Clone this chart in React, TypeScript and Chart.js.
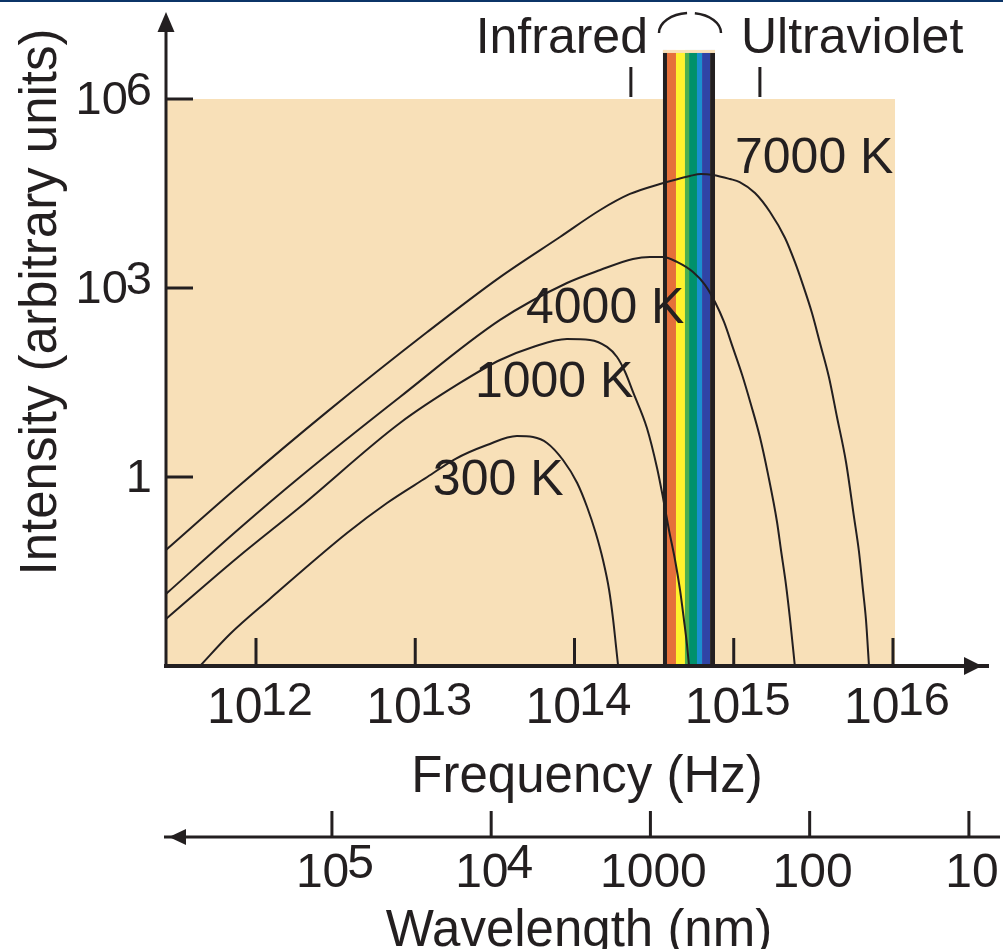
import React, { useEffect, useRef } from "react";
import { Chart, registerables } from "chart.js";

Chart.register(...registerables);

// ---- Data (frequency in Hz, intensity in arbitrary units) ----
const FREQ_7000K = [2.72e11, 7.93e11, 2.79e12, 1.19e13, 3.41e13, 8.11e13, 1.45e14, 2.23e14, 3.44e14, 5.31e14, 6.23e14, 7.41e14, 9.47e14, 1.09e15, 1.36e15, 1.69e15, 2.10e15, 2.42e15, 2.72e15, 3.10e15, 3.48e15, 3.96e15, 4.45e15, 5.07e15, 5.69e15, 6.12e15, 6.48e15, 6.77e15, 7.07e15];
const INT_7000K = [0.0694, 0.746, 10.8, 200, 1490, 6450, 17300, 31100, 44700, 60000, 64500, 62200, 53700, 48100, 32200, 16100, 6220, 2590, 1120, 401, 134, 38.7, 8.96, 1.73, 0.232, 0.0645, 0.0161, 0.00537, 0.001];

const FREQ_4000K = [2.72e11, 7.93e11, 1.89e12, 8.02e12, 3.41e13, 8.97e13, 1.45e14, 2.33e14, 2.98e14, 3.60e14, 4.40e14, 5.55e14, 6.60e14, 7.63e14, 8.69e14, 9.89e14, 1.13e15, 1.28e15, 1.46e15, 1.64e15, 1.87e15, 1.98e15, 2.13e15, 2.26e15, 2.42e15];
const INT_4000K = [0.0139, 0.155, 1.0, 18.6, 311, 1200, 1930, 2890, 3110, 3110, 2590, 1790, 1120, 600, 289, 112, 41.6, 14.4, 4.31, 1.12, 0.193, 0.0694, 0.0193, 0.00537, 0.001];

const FREQ_1000K = [2.72e11, 7.60e11, 1.89e12, 8.02e12, 1.91e13, 3.41e13, 5.49e13, 8.97e13, 1.25e14, 1.60e14, 1.85e14, 2.08e14, 2.33e14, 2.85e14, 3.30e14, 3.60e14, 3.92e14, 4.28e14, 4.60e14, 4.87e14, 5.09e14, 5.24e14];
const INT_1000K = [0.00557, 0.0518, 0.334, 7.2, 31.1, 72.0, 116, 155, 150, 116, 80.3, 46.4, 22.4, 6.0, 1.39, 0.464, 0.144, 0.0481, 0.0161, 0.00537, 0.00215, 0.001];

const FREQ_300K = [4.45e11, 6.87e11, 1.22e12, 3.73e12, 6.65e12, 1.19e13, 1.78e13, 2.82e13, 4.35e13, 5.49e13, 6.72e13, 8.47e13, 1.04e14, 1.20e14, 1.36e14, 1.51e14, 1.65e14, 1.75e14, 1.82e14, 1.88e14];
const INT_300K = [0.001, 0.00322, 0.0116, 0.129, 0.387, 1.0, 1.93, 3.22, 4.48, 4.31, 3.47, 1.86, 0.803, 0.334, 0.129, 0.0481, 0.0161, 0.00537, 0.00215, 0.001];

const SERIES_LABELS = ["7000 K", "4000 K", "1000 K", "300 K"];

const FREQ_TICKS = [1e12, 1e13, 1e14, 1e15, 1e16];
const FREQ_TICK_LABELS = [["10", "12"], ["10", "13"], ["10", "14"], ["10", "15"], ["10", "16"]];
const INTENSITY_TICKS = [1e6, 1e3, 1];
const INTENSITY_TICK_LABELS = [["10", "6"], ["10", "3"], ["1", ""]];
const WAVELENGTH_TICKS_NM = [1e5, 1e4, 1000, 100, 10];
const WAVELENGTH_TICK_LABELS = [["10", "5"], ["10", "4"], ["1000", ""], ["100", ""], ["10", ""]];

// visible band: stripe edges in nm and their colours
const VISIBLE_EDGES_NM = [834, 787, 691, 607, 572, 510, 474, 422, 393];
const VISIBLE_COLORS = ["#231f20", "#e5703a", "#fff22d", "#4cae4f", "#00916b", "#1a90cf", "#2f44a6", "#231f20"];
const IR_UV_MARKS_HZ = [2.26e14, 1.46e15];

const C_NM_PER_S = 2.998e17;

// axis ranges
const FREQ_MIN = 2.722e11;
const FREQ_MAX = 4.067e16;
const INT_MIN = 1e-3;
const INT_MAX = 2.404e7;
const BG_FREQ_MAX = 1.03e16;
const BG_INT_MAX = 1e6;
const BAND_TOP_INT = 6e6;

// ---- styling ----
const INK = "#231f20";
const BEIGE = "#f8e0b8";
const FONT = "'Liberation Sans', Arial, Helvetica, sans-serif";

function toPoints(fs: number[], is: number[]) {
  return fs.map((f, i) => ({ x: f, y: is[i] }));
}

function drawPower(
  ctx: CanvasRenderingContext2D,
  base: string,
  exp: string,
  x: number,
  baseline: number,
  baseSize: number,
  expSize: number,
  rise: number,
  align: "center" | "right",
  overlap: number
) {
  ctx.textAlign = "left";
  ctx.textBaseline = "alphabetic";
  ctx.font = `${baseSize}px ${FONT}`;
  const bw = ctx.measureText(base).width;
  ctx.font = `${expSize}px ${FONT}`;
  const ew = exp ? ctx.measureText(exp).width - overlap : 0;
  const total = bw + ew;
  const left = align === "center" ? x - total / 2 : x - total;
  ctx.font = `${baseSize}px ${FONT}`;
  ctx.fillText(base, left, baseline);
  if (exp) {
    ctx.font = `${expSize}px ${FONT}`;
    ctx.fillText(exp, left + bw - overlap, baseline - rise);
  }
}

const decorPlugin = {
  id: "blackbodyDecor",
  beforeDatasetsDraw(chart: any) {
    const { ctx, chartArea: ca, scales } = chart;
    const x = scales.x;
    const y = scales.y;
    ctx.save();
    // beige plotting region
    const bgR = x.getPixelForValue(BG_FREQ_MAX);
    const bgT = y.getPixelForValue(BG_INT_MAX);
    ctx.fillStyle = BEIGE;
    ctx.fillRect(ca.left, bgT, bgR - ca.left, ca.bottom - bgT);
    // visible spectrum band
    const bandTop = y.getPixelForValue(BAND_TOP_INT);
    for (let i = 0; i < VISIBLE_COLORS.length; i++) {
      const xa = x.getPixelForValue(C_NM_PER_S / VISIBLE_EDGES_NM[i]);
      const xb = x.getPixelForValue(C_NM_PER_S / VISIBLE_EDGES_NM[i + 1]);
      ctx.fillStyle = VISIBLE_COLORS[i];
      ctx.fillRect(xa, bandTop, xb - xa, ca.bottom - bandTop);
    }
    const bandL = x.getPixelForValue(C_NM_PER_S / VISIBLE_EDGES_NM[0]);
    const bandR = x.getPixelForValue(C_NM_PER_S / VISIBLE_EDGES_NM[VISIBLE_EDGES_NM.length - 1]);
    ctx.fillStyle = BEIGE;
    ctx.fillRect(bandL, bandTop, bandR - bandL, 3);
    ctx.restore();
  },
  afterDatasetsDraw(chart: any) {
    const { ctx, chartArea: ca, scales, width } = chart;
    const x = scales.x;
    const y = scales.y;
    ctx.save();
    ctx.fillStyle = INK;
    ctx.strokeStyle = INK;

    // top frame stripe
    ctx.fillStyle = "#0b3467";
    ctx.fillRect(0, 0, width, 2);
    ctx.fillStyle = INK;

    // curve labels (anchored in data coordinates)
    const labelAnchors = [
      [1.018e15, 6.69e4],
      [4.96e13, 278],
      [2.37e13, 18.6],
      [1.29e13, 0.518],
    ];
    ctx.font = `50px ${FONT}`;
    ctx.textAlign = "left";
    ctx.textBaseline = "alphabetic";
    SERIES_LABELS.forEach((lbl, i) => {
      ctx.fillText(lbl, x.getPixelForValue(labelAnchors[i][0]), y.getPixelForValue(labelAnchors[i][1]));
    });

    // y axis line + arrow
    const ax = ca.left;
    const ab = ca.bottom;
    ctx.lineWidth = 3;
    ctx.beginPath();
    ctx.moveTo(ax, ab + 2);
    ctx.lineTo(ax, ca.top + 18);
    ctx.stroke();
    ctx.beginPath();
    ctx.moveTo(ax, ca.top);
    ctx.lineTo(ax - 8.5, ca.top + 20);
    ctx.lineTo(ax + 8.5, ca.top + 20);
    ctx.closePath();
    ctx.fill();

    // x axis line + arrow
    ctx.lineWidth = 4;
    ctx.beginPath();
    ctx.moveTo(ax - 2, ab);
    ctx.lineTo(ca.right - 1, ab);
    ctx.stroke();
    ctx.beginPath();
    ctx.moveTo(ca.right - 8, ab);
    ctx.lineTo(ca.right - 26, ab - 9);
    ctx.lineTo(ca.right - 26, ab + 9);
    ctx.closePath();
    ctx.fill();

    // frequency ticks + labels
    ctx.lineWidth = 3;
    FREQ_TICKS.forEach((v, i) => {
      const px = x.getPixelForValue(v);
      ctx.beginPath();
      ctx.moveTo(px, ab);
      ctx.lineTo(px, ab - 28);
      ctx.stroke();
      drawPower(ctx, FREQ_TICK_LABELS[i][0], FREQ_TICK_LABELS[i][1], px + 4, ab + 57, 50, 47, 8, "center", 2);
    });

    // intensity ticks + labels
    INTENSITY_TICKS.forEach((v, i) => {
      const py = y.getPixelForValue(v);
      ctx.beginPath();
      ctx.moveTo(ax, py);
      ctx.lineTo(ax + 27, py);
      ctx.stroke();
      drawPower(ctx, INTENSITY_TICK_LABELS[i][0], INTENSITY_TICK_LABELS[i][1], 152, py + 15, 47, 47, 9, "right", 2);
    });

    // axis titles
    ctx.font = `51px ${FONT}`;
    ctx.textAlign = "center";
    ctx.textBaseline = "alphabetic";
    ctx.fillText("Frequency (Hz)", 587, 792);
    ctx.fillText("Wavelength (nm)", 579, 946);
    ctx.save();
    ctx.translate(56, 302);
    ctx.rotate(-Math.PI / 2);
    ctx.fillText("Intensity (arbitrary units)", 0, 0);
    ctx.restore();

    // wavelength axis
    const wy = 837;
    ctx.lineWidth = 3;
    ctx.beginPath();
    ctx.moveTo(ax - 2, wy);
    ctx.lineTo(width - 3, wy);
    ctx.stroke();
    ctx.beginPath();
    ctx.moveTo(ax + 3, wy);
    ctx.lineTo(ax + 20, wy - 8);
    ctx.lineTo(ax + 20, wy + 8);
    ctx.closePath();
    ctx.fill();
    WAVELENGTH_TICKS_NM.forEach((lam, i) => {
      const px = x.getPixelForValue(C_NM_PER_S / lam);
      ctx.beginPath();
      ctx.moveTo(px, wy);
      ctx.lineTo(px, wy - 26);
      ctx.stroke();
      drawPower(ctx, WAVELENGTH_TICK_LABELS[i][0], WAVELENGTH_TICK_LABELS[i][1], px + 3, wy + 50, 48, 48, 9, "center", 2);
    });

    // infrared / ultraviolet annotation
    const bandL = x.getPixelForValue(C_NM_PER_S / VISIBLE_EDGES_NM[0]);
    const bandR = x.getPixelForValue(C_NM_PER_S / VISIBLE_EDGES_NM[VISIBLE_EDGES_NM.length - 1]);
    ctx.font = `50px ${FONT}`;
    ctx.textAlign = "right";
    ctx.fillText("Infrared", bandL - 15, 53);
    ctx.textAlign = "left";
    ctx.fillText("Ultraviolet", bandR + 26, 53);
    IR_UV_MARKS_HZ.forEach((f) => {
      const px = x.getPixelForValue(f);
      ctx.beginPath();
      ctx.moveTo(px, 67);
      ctx.lineTo(px, 97);
      ctx.stroke();
    });
    // eye arc above the band
    const cx = (bandL + bandR) / 2 + 1;
    ctx.lineWidth = 2.5;
    ctx.beginPath();
    ctx.ellipse(cx, 33, 31, 20, 0, Math.PI, Math.PI * 1.47);
    ctx.stroke();
    ctx.beginPath();
    ctx.ellipse(cx, 33, 31, 20, 0, Math.PI * 1.55, Math.PI * 2);
    ctx.stroke();

    ctx.restore();
  },
};

export default function App() {
  const canvasRef = useRef<HTMLCanvasElement | null>(null);

  useEffect(() => {
    if (!canvasRef.current) return;
    const series = [
      toPoints(FREQ_7000K, INT_7000K),
      toPoints(FREQ_4000K, INT_4000K),
      toPoints(FREQ_1000K, INT_1000K),
      toPoints(FREQ_300K, INT_300K),
    ];
    const chart = new Chart(canvasRef.current, {
      type: "line",
      data: {
        datasets: series.map((pts, i) => ({
          label: SERIES_LABELS[i],
          data: pts,
          borderColor: INK,
          borderWidth: 2,
          pointRadius: 0,
          fill: false,
          cubicInterpolationMode: "monotone" as const,
        })),
      },
      options: {
        responsive: false,
        maintainAspectRatio: false,
        devicePixelRatio: 1,
        animation: false,
        layout: { padding: { left: 166, right: 13, top: 12, bottom: 283 } },
        plugins: { legend: { display: false }, tooltip: { enabled: false } },
        scales: {
          x: { type: "logarithmic", min: FREQ_MIN, max: FREQ_MAX, bounds: "data", display: false },
          y: { type: "logarithmic", min: INT_MIN, max: INT_MAX, bounds: "data", display: false },
        },
      },
      plugins: [decorPlugin],
    });
    return () => chart.destroy();
  }, []);

  return (
    <div style={{ position: "fixed", left: 0, top: 0, width: 1003, height: 949, background: "#fff" }}>
      <canvas ref={canvasRef} width={1003} height={949} style={{ display: "block" }} />
    </div>
  );
}
